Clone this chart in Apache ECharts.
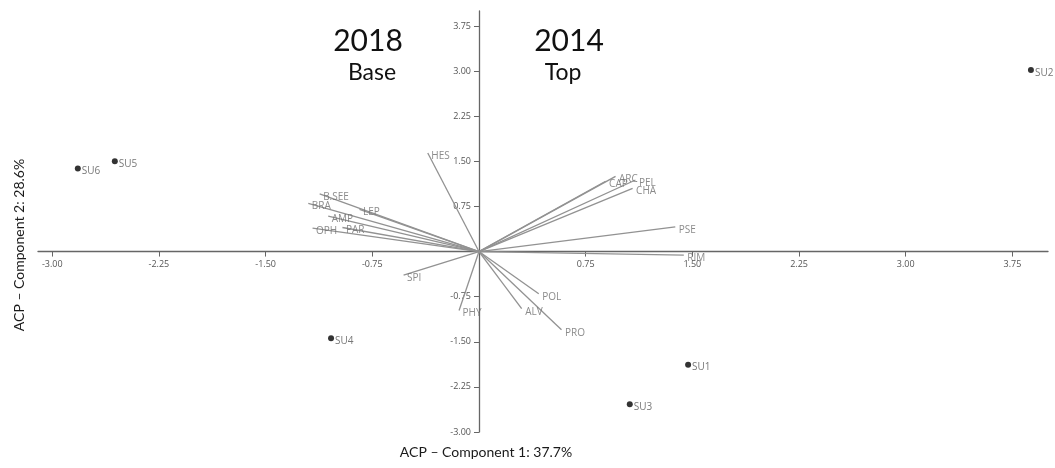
<!DOCTYPE html>
<html>
<head>
<meta charset="utf-8">
<script src="https://cdn.jsdelivr.net/npm/echarts@6/dist/echarts.min.js"></script>
<style>
  html, body { margin: 0; padding: 0; background: #fff; }
  #chart { width: 1055px; height: 468px; }
</style>
</head>
<body>
<div id="chart"></div>
<script>
// Variable loadings (arrows from the origin)
const varNames = ['HES', 'B.SEE', 'BRA', 'LEP', 'AMP', 'PAR', 'OPH', 'SPI', 'PHY', 'POL', 'ALV', 'PRO', 'ARC', 'CAP', 'PEL', 'CHA', 'PSE', 'RIM'];
const varX = [-0.36, -1.12, -1.20, -0.84, -1.06, -0.96, -1.17, -0.53, -0.14, 0.42, 0.30, 0.58, 0.96, 0.89, 1.10, 1.08, 1.38, 1.44];
const varY = [1.64, 0.96, 0.80, 0.70, 0.59, 0.40, 0.39, -0.39, -0.98, -0.70, -0.95, -1.30, 1.25, 1.17, 1.19, 1.05, 0.41, -0.06];

// Sampling-unit scores
const sampleNames = ['SU1', 'SU2', 'SU3', 'SU4', 'SU5', 'SU6'];
const sampleX = [1.47, 3.88, 1.06, -1.04, -2.56, -2.82];
const sampleY = [-1.88, 3.02, -2.54, -1.44, 1.50, 1.38];

// Axis ticks
const tickValues = [-3.00, -2.25, -1.50, -0.75, 0.75, 1.50, 2.25, 3.00, 3.75];

const axisTitleX = 'ACP – Component 1: 37.7%';
const axisTitleY = 'ACP – Component 2: 28.6%';

// Plot extents
const xMin = -3.1, xMax = 4.0, yMin = -3.0, yMax = 4.0;
const W = 1055, H = 468;
const grid = { left: 38, right: 7, top: 11, bottom: 36 };

// Both axes cross at the origin: shift them in from the grid edges
const plotW = W - grid.left - grid.right;
const plotH = H - grid.top - grid.bottom;
const xAxisOffset = -plotH * (0 - yMin) / (yMax - yMin);
const yAxisOffset = -plotW * (0 - xMin) / (xMax - xMin);

const chart = echarts.init(document.getElementById('chart'), null, { renderer: 'canvas' });

const tickFont = { color: '#555', fontSize: 9, fontFamily: 'Open Sans, sans-serif' };

function axis(extra) {
  return Object.assign({
    type: 'value',
    splitLine: { show: false },
    axisLine: { onZero: false, lineStyle: { color: '#666', width: 1.3 } },
    axisTick: { show: true, length: 5, customValues: tickValues, lineStyle: { color: '#666', width: 1 } },
    axisLabel: Object.assign({ customValues: tickValues, formatter: v => v.toFixed(2) }, tickFont)
  }, extra);
}

const titleFont = { fontSize: 14, fontFamily: 'Lato, sans-serif', fill: '#1a1a1a', align: 'center', verticalAlign: 'middle' };

const option = {
  animation: false,
  backgroundColor: '#fff',
  grid: Object.assign({ containLabel: false, outerBoundsMode: 'none' }, grid),
  xAxis: axis({ min: xMin, max: xMax, position: 'bottom', offset: xAxisOffset }),
  yAxis: axis({ min: yMin, max: yMax, position: 'left', offset: yAxisOffset }),
  graphic: [
    { type: 'text', x: 368, y: 41, style: { text: '2018', fontSize: 30, fontFamily: 'Lato, sans-serif', fill: '#111', align: 'center', verticalAlign: 'middle' } },
    { type: 'text', x: 372, y: 73, style: { text: 'Base', fontSize: 23, fontFamily: 'Lato, sans-serif', fill: '#111', align: 'center', verticalAlign: 'middle' } },
    { type: 'text', x: 569, y: 41, style: { text: '2014', fontSize: 30, fontFamily: 'Lato, sans-serif', fill: '#111', align: 'center', verticalAlign: 'middle' } },
    { type: 'text', x: 563, y: 73, style: { text: 'Top', fontSize: 23, fontFamily: 'Lato, sans-serif', fill: '#111', align: 'center', verticalAlign: 'middle' } },
    { type: 'text', x: 486, y: 452, style: Object.assign({ text: axisTitleX }, titleFont) },
    { type: 'text', x: 19, y: 245, rotation: Math.PI / 2, style: Object.assign({ text: axisTitleY }, titleFont) }
  ],
  series: [
    {
      type: 'lines',
      coordinateSystem: 'cartesian2d',
      silent: true,
      z: 2,
      lineStyle: { color: '#929292', width: 1.3, opacity: 1 },
      data: varNames.map((n, i) => ({ name: n, coords: [[0, 0], [varX[i], varY[i]]] }))
    },
    {
      type: 'scatter',
      symbolSize: 1,
      itemStyle: { color: 'rgba(0,0,0,0)' },
      z: 3,
      label: {
        show: true, position: 'right', distance: 3, offset: [0, 3],
        formatter: p => p.data[2],
        color: '#6e6e6e', fontSize: 10, fontFamily: 'Open Sans, sans-serif'
      },
      data: varNames.map((n, i) => [varX[i], varY[i], n])
    },
    {
      type: 'scatter',
      symbol: 'circle',
      symbolSize: 6,
      itemStyle: { color: '#000' },
      z: 4,
      label: {
        show: true, position: 'right', distance: 1, offset: [0, 3],
        formatter: p => p.data[2],
        color: '#555', fontSize: 10, fontFamily: 'Open Sans, sans-serif'
      },
      data: sampleNames.map((n, i) => [sampleX[i], sampleY[i], n])
    }
  ]
};

chart.setOption(option);
</script>
</body>
</html>
